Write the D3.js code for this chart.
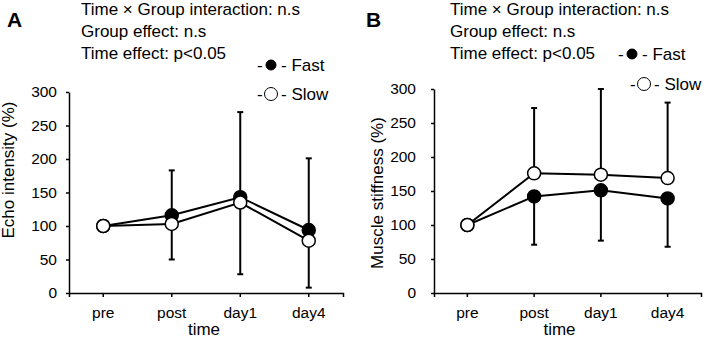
<!DOCTYPE html>
<html lang="en">
<head>
    <meta charset="UTF-8">
    <title>echo intensity and muscle stiffness</title>
    <script src="https://d3js.org/d3.v7.min.js"></script>
    <style>
        body { margin: 0; background: #fff; }
        text { font-family: "Liberation Sans", Arial, sans-serif; fill: #000; }
    </style>
</head>
<body>
    <svg></svg>
    <script>
        const width = 706;
        const height = 341;

        // data
        const times = ['pre', 'post', 'day1', 'day4'];
        const yTicks = [0, 50, 100, 150, 200, 250, 300];
        const headerLines = ['Time \u00d7 Group interaction: n.s', 'Group effect: n.s', 'Time effect: p<0.05'];

        // A: echo intensity
        const echoFast = [100, 116, 143, 94];
        const echoFastSD = [0, 67, 127, 107];   // drawn upward
        const echoSlow = [100, 103, 135, 78];
        const echoSlowSD = [0, 53, 107, 70];    // drawn downward

        // B: muscle stiffness
        const stiffFast = [100, 142, 151, 139];
        const stiffFastSD = [0, 71, 74, 71];    // downward
        const stiffSlow = [100, 176, 174, 169];
        const stiffSlowSD = [0, 96, 126, 111];  // upward

        const svg = d3.select('svg')
            .attr('width', width)
            .attr('height', height);

        function panel(cfg) {
            const x = d3.scaleBand()
                .domain(times)
                .range([cfg.x0, cfg.x1]);
            const cx = d => x(d) + x.bandwidth() / 2;
            const y = d3.scaleLinear()
                .domain([0, 300])
                .range([cfg.yBottom, cfg.yTop]);

            // letter + stats
            svg.append('text')
                .attr('x', cfg.letterX).attr('y', 27)
                .attr('font-size', 21).attr('font-weight', 'bold')
                .text(cfg.letter);
            headerLines.forEach((t, i) => {
                svg.append('text')
                    .attr('x', cfg.headX).attr('y', 15 + i * 22)
                    .attr('font-size', 17)
                    .text(t);
            });

            // y axis
            const gy = svg.append('g')
                .attr('transform', `translate(${cfg.x0},0)`)
                .call(d3.axisLeft(y).tickValues(yTicks).tickSize(3).tickSizeOuter(0).tickPadding(cfg.yPad));
            gy.select('.domain').attr('stroke', '#000').attr('stroke-width', 1.5);
            gy.selectAll('.tick line').attr('stroke', '#000').attr('stroke-width', 1.5);
            gy.selectAll('.tick text').style('font-size', '15.5px');

            // x axis
            const gx = svg.append('g')
                .attr('transform', `translate(0,${cfg.yBottom})`)
                .call(d3.axisBottom(x).tickSize(4).tickSizeOuter(4).tickPadding(10));
            gx.select('.domain').attr('stroke', '#000').attr('stroke-width', 1.5);
            gx.selectAll('.tick line').attr('stroke', '#000').attr('stroke-width', 1.5);
            gx.selectAll('.tick text').style('font-size', '15.5px');

            // axis titles
            svg.append('text')
                .attr('transform', `translate(${cfg.yTitleX},${cfg.yTitleY}) rotate(-90)`)
                .attr('text-anchor', 'middle')
                .attr('dominant-baseline', 'middle')
                .attr('font-size', 17)
                .text(cfg.yTitle);
            svg.append('text')
                .attr('x', (cfg.x0 + cfg.x1) / 2 + cfg.timeShift).attr('y', 335)
                .attr('text-anchor', 'middle')
                .attr('font-size', 17)
                .text('time');

            // error bars
            const g = svg.append('g');
            const bars = [];
            times.forEach((t, i) => {
                if (i === 0) return;
                bars.push({ t, from: cfg.fast[i], to: cfg.fast[i] + cfg.fastDir * cfg.fastSD[i] });
                bars.push({ t, from: cfg.slow[i], to: cfg.slow[i] + cfg.slowDir * cfg.slowSD[i] });
            });
            g.selectAll('line.err')
                .data(bars)
                .enter().append('line')
                .attr('x1', d => cx(d.t)).attr('x2', d => cx(d.t))
                .attr('y1', d => y(d.from)).attr('y2', d => y(d.to))
                .attr('stroke', '#000').attr('stroke-width', 2);
            g.selectAll('line.cap')
                .data(bars)
                .enter().append('line')
                .attr('x1', d => cx(d.t) - 3).attr('x2', d => cx(d.t) + 3)
                .attr('y1', d => y(d.to)).attr('y2', d => y(d.to))
                .attr('stroke', '#000').attr('stroke-width', 2);

            // lines
            const line = d3.line()
                .x((d, i) => cx(times[i]))
                .y(d => y(d));
            [cfg.fast, cfg.slow].forEach(s => {
                g.append('path')
                    .datum(s)
                    .attr('fill', 'none')
                    .attr('stroke', '#000')
                    .attr('stroke-width', 2)
                    .attr('d', line);
            });

            // points
            [[cfg.fast, '#000'], [cfg.slow, '#fff']].forEach(([s, fill]) => {
                g.selectAll(null)
                    .data(s)
                    .enter().append('circle')
                    .attr('cx', (d, i) => cx(times[i]))
                    .attr('cy', d => y(d))
                    .attr('r', 6.5)
                    .attr('fill', fill)
                    .attr('stroke', '#000')
                    .attr('stroke-width', 1.5);
            });

            // legend
            const leg = [
                { name: 'Fast', fill: '#000', r: 5, x: cfg.legFast[0], y: cfg.legFast[1] },
                { name: 'Slow', fill: '#fff', r: 6.5, x: cfg.legSlow[0], y: cfg.legSlow[1] }
            ];
            leg.forEach(l => {
                svg.append('text').attr('x', l.x).attr('y', l.y).attr('font-size', 17).text('-');
                svg.append('circle')
                    .attr('cx', l.x + 14).attr('cy', l.y - 6)
                    .attr('r', l.r)
                    .attr('fill', l.fill)
                    .attr('stroke', '#000').attr('stroke-width', 1);
                svg.append('text').attr('x', l.x + 24).attr('y', l.y).attr('font-size', 17).text('- ' + l.name);
            });
        }

        panel({
            letter: 'A', letterX: 7, headX: 81,
            x0: 69, x1: 343, yTop: 92, yBottom: 293, yPad: 9,
            yTitle: 'Echo intensity (%)', yTitleX: 10, yTitleY: 170, timeShift: -2,
            fast: echoFast, fastSD: echoFastSD, fastDir: 1,
            slow: echoSlow, slowSD: echoSlowSD, slowDir: -1,
            legFast: [257, 71], legSlow: [257, 100]
        });

        panel({
            letter: 'B', letterX: 366, headX: 450,
            x0: 434, x1: 701, yTop: 89, yBottom: 293, yPad: 15,
            yTitle: 'Muscle stiffness (%)', yTitleX: 379, yTitleY: 193, timeShift: -8,
            fast: stiffFast, fastSD: stiffFastSD, fastDir: -1,
            slow: stiffSlow, slowSD: stiffSlowSD, slowDir: 1,
            legFast: [618, 60], legSlow: [630, 90]
        });
    </script>
</body>
</html>
